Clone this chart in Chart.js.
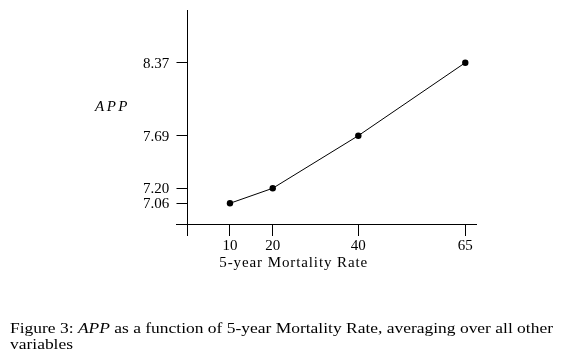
<!DOCTYPE html>
<html>
<head>
<meta charset="utf-8">
<script src="https://cdn.jsdelivr.net/npm/chart.js@4/dist/chart.umd.min.js"></script>
<style>
  html, body { margin: 0; padding: 0; background: #fff; }
  #wrap { position: relative; width: 561px; height: 364px; overflow: hidden; }
  #c { position: absolute; left: 0; top: 0; }
  #cap { position: absolute; left: 10px; top: 320px; font-family: "Liberation Serif", serif; font-size: 14.5px; line-height: 16px; color: #000; white-space: nowrap; transform-origin: 0 0; }
  #cap i { font-style: italic; }
</style>
</head>
<body>
<div id="wrap">
  <canvas id="c" width="561" height="364"></canvas>
  <div id="cap"><span id="l1">Figure 3: <i>APP</i> as a function of 5-year Mortality Rate, averaging over all other</span><br><span id="l2">variables</span></div>
</div>
<script>
const mortalityRates = [10, 20, 40, 65];
const appValues = [7.06, 7.20, 7.69, 8.37];
const xTickValues = [10, 20, 40, 65];
const yTickValues = [7.06, 7.20, 7.69, 8.37];
const xTitle = '5-year Mortality Rate';
const yTitle = 'APP';

const FONT = '"Liberation Serif", serif';

const titlesPlugin = {
  id: 'titles',
  afterDraw(chart) {
    const ctx = chart.ctx;
    const xs = chart.scales.x, ys = chart.scales.y;
    ctx.save();
    ctx.fillStyle = '#000';
    // y tick labels (right-aligned left of the tick marks)
    ctx.font = '15px ' + FONT;
    ctx.textAlign = 'right';
    ctx.textBaseline = 'middle';
    const yLabelRight = xs.getPixelForValue(0) - 18;
    ys.ticks.forEach(t => {
      ctx.fillText(t.value.toFixed(2), yLabelRight, ys.getPixelForValue(t.value) + 1);
    });
    // x axis title
    ctx.textBaseline = 'alphabetic';
    ctx.textAlign = 'center';
    try { ctx.letterSpacing = '0.9px'; } catch (e) {}
    ctx.fillText(xTitle, xs.getPixelForValue(24.9), 267);
    // y axis title
    ctx.font = 'italic 15px ' + FONT;
    try { ctx.letterSpacing = '2.5px'; } catch (e) {}
    ctx.textAlign = 'left';
    ctx.fillText(yTitle, 95, 111);
    ctx.restore();
  }
};

new Chart(document.getElementById('c'), {
  type: 'line',
  data: {
    datasets: [{
      data: mortalityRates.map((x, i) => ({ x: x, y: appValues[i] })),
      borderColor: '#000',
      backgroundColor: '#000',
      borderWidth: 1,
      pointRadius: 3.2,
      pointBorderWidth: 0,
      pointBackgroundColor: '#000',
      tension: 0,
      fill: false
    }]
  },
  options: {
    responsive: false,
    animation: false,
    devicePixelRatio: 1,
    layout: { padding: { left: 176.7, top: 10, right: 84.3, bottom: 128.3 } },
    plugins: { legend: { display: false }, tooltip: { enabled: false }, title: { display: false } },
    scales: {
      x: {
        type: 'linear',
        min: -2.45,
        max: 67.67,
        position: { y: 6.864 },
        afterBuildTicks: s => { s.ticks = xTickValues.map(v => ({ value: v })); },
        grid: { display: true, drawOnChartArea: false, drawTicks: true, tickLength: 11, color: '#000', lineWidth: 1 },
        border: { display: true, color: '#000', width: 1 },
        ticks: { color: '#000', font: { family: FONT, size: 15 }, padding: 2, maxRotation: 0, autoSkip: false, callback: v => String(v) }
      },
      y: {
        type: 'linear',
        min: 6.758,
        max: 8.861,
        position: { x: 0 },
        afterBuildTicks: s => { s.ticks = yTickValues.map(v => ({ value: v })); },
        grid: { display: true, drawOnChartArea: false, drawTicks: true, tickLength: 10.5, color: '#000', lineWidth: 1 },
        border: { display: true, color: '#000', width: 1 },
        ticks: { display: false }
      }
    }
  },
  plugins: [titlesPlugin]
});

// fit caption line width to the reference (~543px)
(function () {
  const l1 = document.getElementById('l1');
  const cap = document.getElementById('cap');
  const w = l1.getBoundingClientRect().width;
  cap.style.transform = 'scaleX(' + (543 / w).toFixed(4) + ')';
})();
</script>
</body>
</html>
